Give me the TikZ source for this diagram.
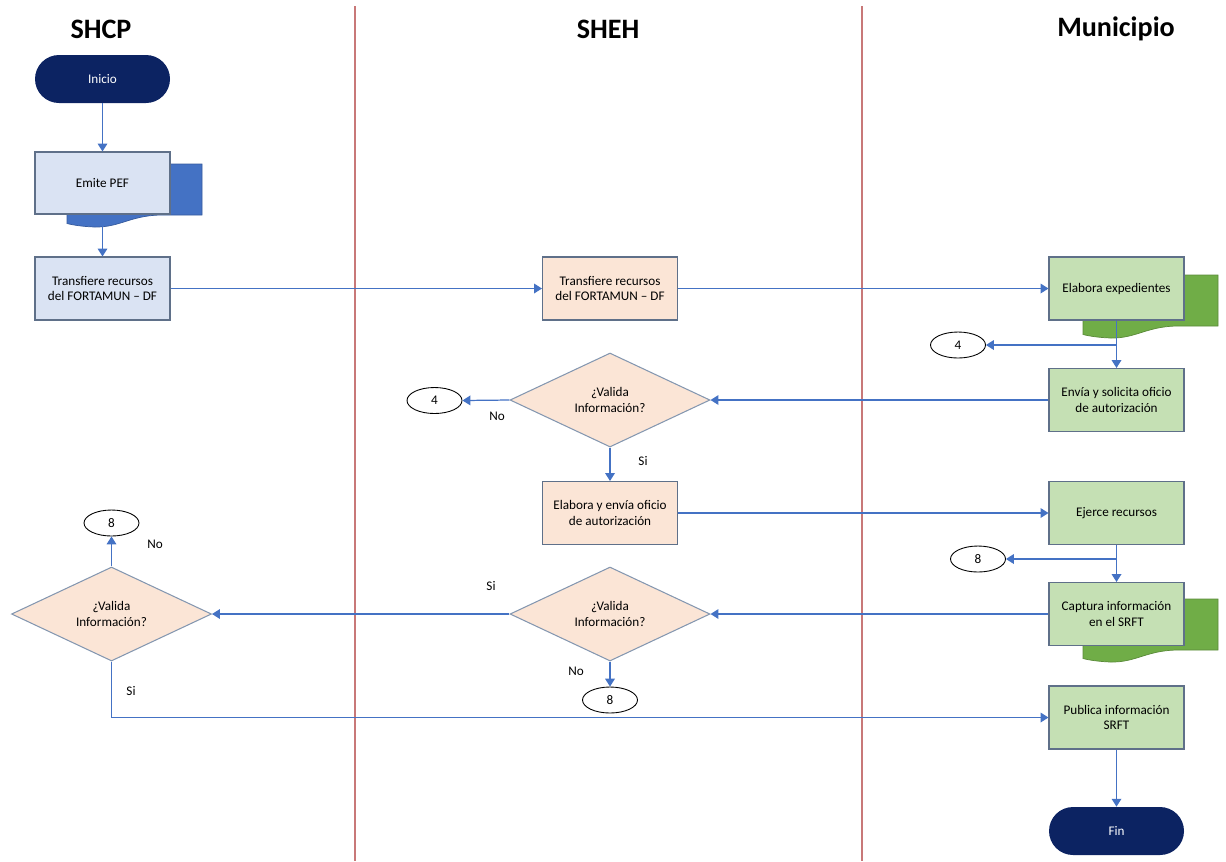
\documentclass[tikz,border=0pt]{standalone}
\usepackage{fontspec}
\setmainfont{Carlito}
\usetikzlibrary{shapes.geometric,arrows.meta}

\definecolor{navyT}{HTML}{0C2362}
\definecolor{shcpfill}{HTML}{DAE3F3}
\definecolor{shehfill}{HTML}{FBE5D6}
\definecolor{munifill}{HTML}{C5E0B4}
\definecolor{docblue}{HTML}{4472C4}
\definecolor{docgreen}{HTML}{70AD47}
\definecolor{flowblue}{HTML}{4472C4}
\definecolor{laneline}{HTML}{C87878}
\definecolor{boxline}{HTML}{5F7089}
\definecolor{diamline}{HTML}{8497B0}

% back sheet of a document box, top left corner given
\newcommand{\docback}[3]{%
  \filldraw[fill=#1, draw=#2, line width=0.4pt, shift={#3}] (0,0) -- (2.7,0) -- (2.7,-1.02) -- (1.85,-1.02)
    .. controls (1.25,-1.04) and (1.05,-1.27) .. (0.55,-1.26)
    .. controls (0.3,-1.25) and (0.12,-1.22) .. (0,-1.19) -- cycle;}

\begin{document}
\begin{tikzpicture}[
    txt/.style={font=\fontsize{7.5}{9}\selectfont},
    term/.style={rectangle, rounded corners=0.48cm, minimum width=2.7cm, minimum height=0.96cm, text centered, fill=navyT, text=white, txt},
    base/.style={rectangle, minimum width=2.7cm, minimum height=1.26cm, text centered, align=center, draw=boxline, line width=0.6pt, txt},
    shcp/.style={base, fill=shcpfill},
    sheh/.style={base, fill=shehfill},
    muni/.style={base, fill=munifill},
    decision/.style={diamond, aspect=2.1, minimum width=4cm, minimum height=1.88cm, inner sep=0pt, align=center, draw=diamline, fill=shehfill, line width=0.6pt, txt},
    conn/.style={ellipse, minimum width=1.1cm, minimum height=0.52cm, inner sep=0pt, draw=black, line width=0.5pt, fill=white, txt},
    head/.style={font=\fontsize{16}{19}\selectfont\bfseries},
    lane/.style={draw=laneline, line width=0.8pt},
    arrow/.style={draw=flowblue, line width=0.7pt, -{Triangle[width=5.5pt,length=4.5pt]}},
    plain/.style={draw=flowblue, line width=0.7pt}
]
\useasboundingbox (0,0) rectangle (24.52,-17.22);

% Lanes
\draw[lane] (7.1,-0.12) -- (7.1,-17.22);
\draw[lane] (17.24,-0.12) -- (17.24,-17.22);
\node[head] (hShcp) at (2.02,-0.58) {SHCP};
\node[head] (hSheh) at (12.16,-0.58) {SHEH};
\node[head] (hMuni) at (22.32,-0.58) {Municipio};

% Document sheets
\docback{docblue}{docblue!80!black}{(1.34,-3.28)}
\docback{docgreen}{docgreen!80!black}{(21.66,-5.5)}
\docback{docgreen}{docgreen!80!black}{(21.66,-11.98)}

% SHCP
\node[term] (inicio) at (2.05,-1.58) {Inicio};
\node[shcp, minimum height=1.24cm] (emite) at (2.05,-3.66) {Emite PEF};
\node[shcp] (transfA) at (2.05,-5.77) {Transfiere recursos\\del FORTAMUN -- DF};
\node[decision] (val3) at (2.23,-12.28) {¿Valida\\Información?};
\node[conn] (con8a) at (2.23,-10.46) {8};

% SHEH
\node[sheh] (transfB) at (12.2,-5.77) {Transfiere recursos\\del FORTAMUN -- DF};
\node[decision] (val1) at (12.2,-8.0) {¿Valida\\Información?};
\node[conn] (con4a) at (8.69,-8.01) {4};
\node[sheh] (elabora) at (12.2,-10.26) {Elabora y envía oficio\\de autorización};
\node[decision] (val2) at (12.2,-12.28) {¿Valida\\Información?};
\node[conn] (con8b) at (12.2,-14.0) {8};

% Municipio
\node[muni] (expedientes) at (22.33,-5.77) {Elabora expedientes};
\node[conn] (con4b) at (19.16,-6.9) {4};
\node[muni] (envia) at (22.33,-8.0) {Envía y solicita oficio\\de autorización};
\node[muni] (ejerce) at (22.33,-10.26) {Ejerce recursos};
\node[conn] (con8c) at (19.56,-11.18) {8};
\node[muni] (captura) at (22.33,-12.28) {Captura información\\en el SRFT};
\node[muni] (publica) at (22.33,-14.35) {Publica información\\SRFT};
\node[term] (fin) at (22.33,-16.62) {Fin};

% Junctions
\coordinate (j1) at (expedientes.south |- con4b.east);
\coordinate (j2) at (ejerce.south |- con8c.east);

% Flow
\draw[arrow] (inicio.south) -- (emite.north);
\draw[arrow] (emite.south) -- (transfA.north);
\draw[arrow] (transfA.east) -- (transfB.west);
\draw[arrow] (transfB.east) -- (expedientes.west);
\draw[arrow] (expedientes.south) -- (envia.north);
\draw[arrow] (j1) -- (con4b.east);
\draw[arrow] (envia.west) -- (val1.east);
\draw[arrow] (val1.west) -- (con4a.east);
\draw[arrow] (val1.south) -- (elabora.north);
\draw[arrow] (elabora.east) -- (ejerce.west);
\draw[arrow] (ejerce.south) -- (captura.north);
\draw[arrow] (j2) -- (con8c.east);
\draw[arrow] (captura.west) -- (val2.east);
\draw[arrow] (val2.west) -- (val3.east);
\draw[arrow] (val2.south) -- (con8b.north);
\draw[arrow] (val3.north) -- (con8a.south);
\draw[arrow] (val3.south) |- (publica.west);
\draw[arrow] (publica.south) -- (fin.north);

% Labels
\node[txt] (lNo1) at (9.94,-8.32) {No};
\node[txt] (lSi1) at (12.86,-9.22) {Si};
\node[txt] (lSi2) at (9.82,-11.72) {Si};
\node[txt] (lNo2) at (11.52,-13.42) {No};
\node[txt] (lNo3) at (3.1,-10.88) {No};
\node[txt] (lSi3) at (2.62,-13.82) {Si};

\end{tikzpicture}
\end{document}
